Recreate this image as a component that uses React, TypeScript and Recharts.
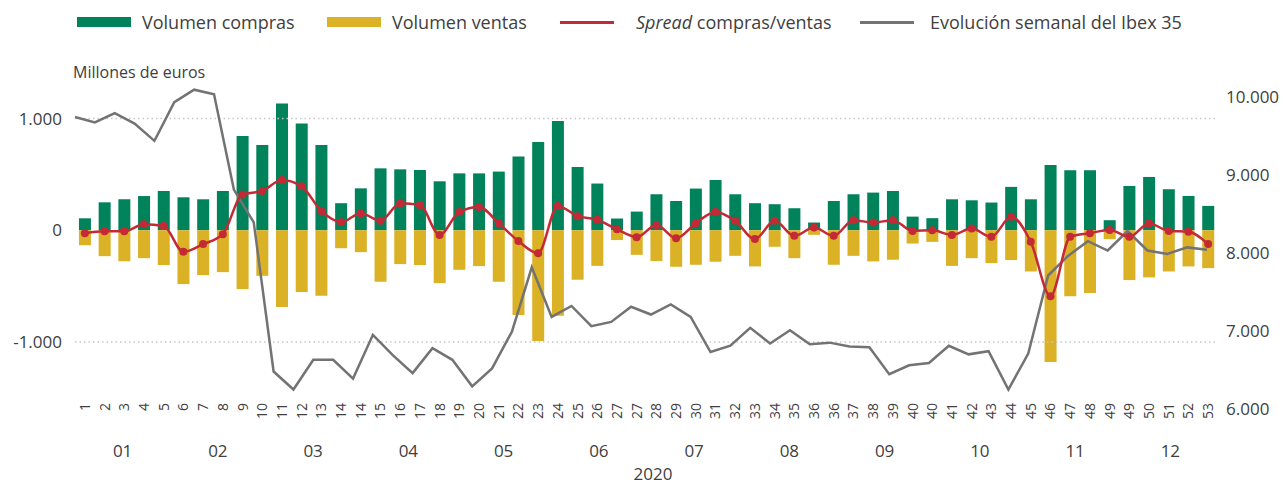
import React from 'react';
import { ComposedChart, Bar, Line, XAxis, YAxis, ReferenceLine } from 'recharts';

const weekLabels = ['1','2','3','4','5','6','7','8','9','10','11','12','13','14','14','15','16','17','18','19','20','21','22','23','24','25','26','27','27','28','29','30','31','32','33','34','35','36','36','37','38','39','40','40','41','42','43','44','45','46','47','48','49','49','50','51','52','53'];
const monthLabels = ['01','02','03','04','05','06','07','08','09','10','11','12'];
const monthTicks = [0.5,1.5,2.5,3.5,4.5,5.5,6.5,7.5,8.5,9.5,10.5,11.5];
const compras = [107,250,277,306,351,295,277,351,843,762,1134,955,762,242,375,554,545,539,438,509,509,525,659,789,977,566,418,105,167,322,262,373,450,322,242,233,197,69,262,322,337,351,122,108,277,268,248,388,277,584,537,537,90,396,477,367,307,218];
const ventas = [-134,-232,-277,-250,-312,-482,-402,-375,-527,-408,-688,-553,-586,-161,-196,-461,-303,-312,-473,-354,-321,-461,-759,-991,-765,-443,-319,-88,-220,-276,-327,-309,-282,-229,-324,-148,-250,-41,-309,-229,-279,-264,-119,-104,-319,-250,-294,-267,-369,-1180,-591,-562,-80,-446,-422,-369,-324,-339];
const spread = [-27,-10,-10,53,38,-193,-124,-35,321,352,450,393,173,72,153,84,242,227,-42,164,209,63,-97,-205,218,126,93,9,-62,47,-71,63,164,84,-79,84,-50,24,-50,90,69,90,-6,0,-42,15,-59,120,-104,-591,-59,-26,3,-59,60,-6,-14,-124];
const ibex = [9740,9670,9790,9655,9435,9930,10090,10030,8810,8390,6480,6250,6630,6630,6390,6950,6690,6460,6780,6630,6290,6520,6990,7815,7180,7320,7060,7115,7310,7210,7340,7180,6730,6810,7040,6840,7010,6830,6850,6800,6790,6445,6560,6590,6810,6700,6740,6250,6710,7710,7960,8150,8030,8280,8030,7985,8070,8040];
const leftTicks = [-1000, 0, 1000];
const rightTicks = [6000, 7000, 8000, 9000, 10000];
const gridValues = [-1000, 1000];

const data = weekLabels.map((w, i) => ({
  key: i,
  idx: i,
  compras: compras[i],
  ventas: ventas[i],
  spread: spread[i],
  ibex: ibex[i],
}));

const fmt = (n: number) => {
  const s = Math.abs(n).toString().replace(/\B(?=(\d{3})+(?!\d))/g, '.');
  return (n < 0 ? '-' : '') + s;
};

const GREEN = '#00825A';
const YELLOW = '#DBB126';
const RED = '#C42A36';
const GREY = '#737373';
const TEXT = '#404040';
const FONT = '"Open Sans", "Noto Sans", sans-serif';

const WEEK_LABEL_TOP = 403;
const MONTH_LABEL_BASE = 457;

const WeekTick = (props: any) => {
  const { x, payload } = props;
  return (
    <text transform={`translate(${x + 5},${WEEK_LABEL_TOP}) rotate(-90)`} textAnchor="end" fontSize={14} fill={TEXT} fontFamily={FONT}>
      {weekLabels[payload.value]}
    </text>
  );
};

const MonthTick = (props: any) => {
  const { x, payload } = props;
  const i = monthTicks.indexOf(payload.value);
  return (
    <text x={x} y={MONTH_LABEL_BASE} textAnchor="middle" fontSize={17} fill={TEXT} fontFamily={FONT}>
      {monthLabels[i]}
    </text>
  );
};

const legendItems = [
  { label: 'Volumen compras', kind: 'rect', color: GREEN, left: 77, gap: 11 },
  { label: 'Volumen ventas', kind: 'rect', color: YELLOW, left: 327, gap: 11 },
  { label: 'spread', kind: 'line', color: RED, left: 560, gap: 22 },
  { label: 'Evolución semanal del Ibex 35', kind: 'line', color: GREY, left: 860, gap: 16 },
];

export default function App() {
  return (
    <div style={{ position: 'absolute', left: 0, top: 0, width: 1285, height: 486, background: '#fff', fontFamily: FONT, color: TEXT, overflow: 'hidden' }}>
      {legendItems.map((it) => (
        <div key={it.label} style={{ position: 'absolute', left: it.left, top: 8, height: 28, display: 'flex', alignItems: 'center', whiteSpace: 'nowrap', fontSize: 18 }}>
          <div style={{ width: 54, height: it.kind === 'rect' ? 10 : 3, background: it.color, marginRight: it.gap }} />
          {it.label === 'spread' ? (
            <span><i>Spread</i> compras/ventas</span>
          ) : (
            <span>{it.label}</span>
          )}
        </div>
      ))}
      <div style={{ position: 'absolute', left: 73, top: 61, fontSize: 16, lineHeight: '22px', whiteSpace: 'nowrap' }}>Millones de euros</div>
      <div style={{ position: 'absolute', left: 653, top: 464, fontSize: 17, lineHeight: '19px', transform: 'translateX(-50%)' }}>2020</div>
      <div style={{ position: 'absolute', left: 0, top: 0 }}>
        <ComposedChart width={1285} height={486} data={data} margin={{ top: 85, right: 7, bottom: 75, left: 15 }} stackOffset="sign" barCategoryGap="20%">
          <XAxis xAxisId="w" dataKey="key" type="category" interval={0} tick={<WeekTick />} axisLine={false} tickLine={false} height={1} />
          <XAxis xAxisId="i" dataKey="idx" type="number" domain={[0, 57]} hide padding={{ left: 0, right: 11 }} />
          <XAxis xAxisId="m" dataKey="idx" type="number" domain={[0, 12]} allowDataOverflow ticks={monthTicks} interval={0} tick={<MonthTick />} axisLine={false} tickLine={false} height={1} />
          <YAxis yAxisId="l" domain={[-1600, 1300]} ticks={leftTicks} interval={0} width={60} axisLine={false} tickLine={false} tickSize={0} tickMargin={13} tickFormatter={fmt} tick={{ fill: TEXT, fontSize: 17, fontFamily: FONT }} />
          <YAxis yAxisId="r" orientation="right" domain={[6000, 10150]} ticks={rightTicks} interval={0} width={60} axisLine={false} tickLine={false} tickSize={0} tickMargin={8} tickFormatter={fmt} tick={{ fill: TEXT, fontSize: 17, fontFamily: FONT }} />
          {gridValues.map((v) => (
            <ReferenceLine key={v} xAxisId="w" yAxisId="l" y={v} stroke="#c8c8c8" strokeWidth={1.5} strokeDasharray="1.5 3" />
          ))}
          <Bar xAxisId="w" yAxisId="l" dataKey="compras" stackId="v" fill={GREEN} isAnimationActive={false} />
          <Bar xAxisId="w" yAxisId="l" dataKey="ventas" stackId="v" fill={YELLOW} isAnimationActive={false} />
          <Line xAxisId="i" yAxisId="r" dataKey="ibex" type="linear" stroke={GREY} strokeWidth={2.5} dot={false} isAnimationActive={false} />
          <Line xAxisId="w" yAxisId="l" dataKey="spread" type="monotone" stroke={RED} strokeWidth={2.5} dot={{ r: 4, fill: RED, stroke: RED, strokeWidth: 0 }} isAnimationActive={false} />
        </ComposedChart>
      </div>
    </div>
  );
}
